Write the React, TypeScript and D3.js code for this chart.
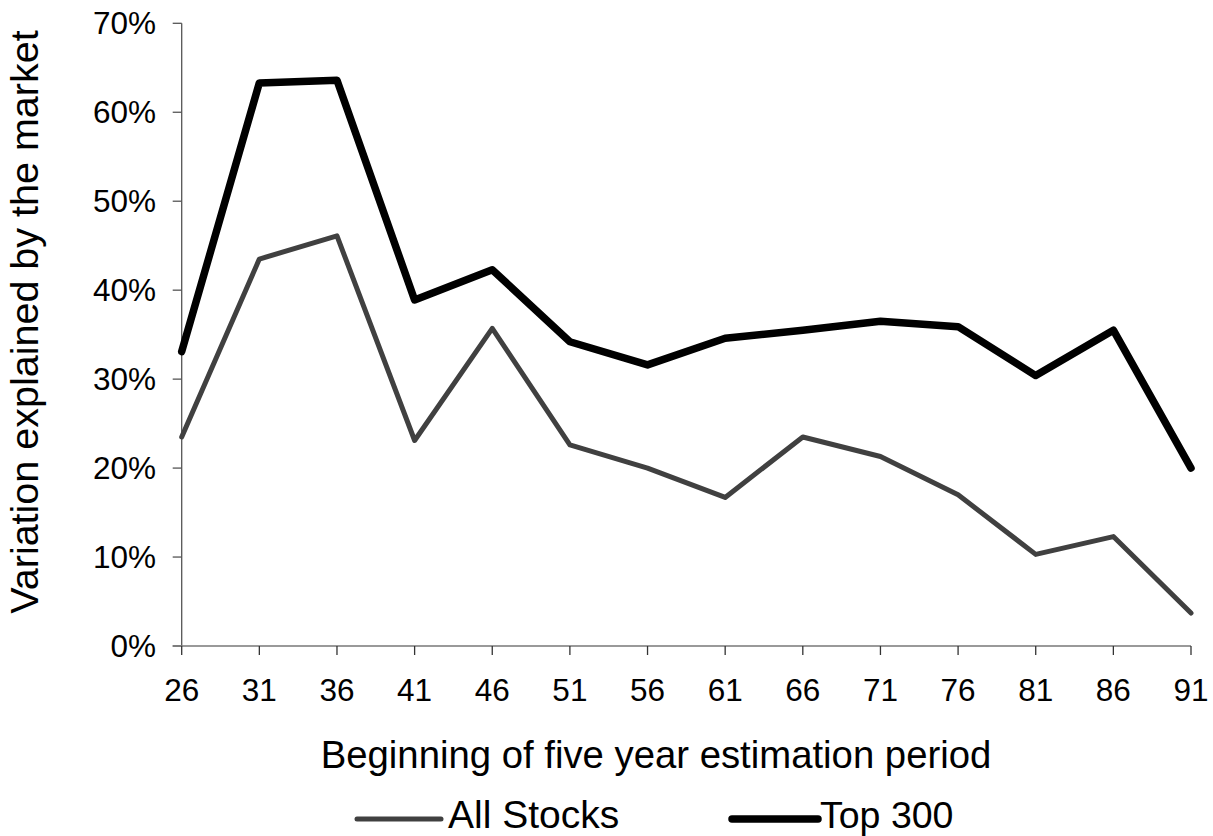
import React from "react";
import * as d3 from "d3";

const categories = ["26", "31", "36", "41", "46", "51", "56", "61", "66", "71", "76", "81", "86", "91"];
const allStocks = [0.235, 0.435, 0.461, 0.231, 0.357, 0.226, 0.200, 0.167, 0.235, 0.213, 0.170, 0.103, 0.123, 0.037];
const top300 = [0.331, 0.633, 0.636, 0.389, 0.423, 0.342, 0.316, 0.346, 0.355, 0.365, 0.359, 0.304, 0.355, 0.200];
const yTicks = [0, 0.1, 0.2, 0.3, 0.4, 0.5, 0.6, 0.7];
const seriesNames = ["All Stocks", "Top 300"];

const W = 1213;
const H = 836;
const FONT = "'Liberation Sans', Arial, Helvetica, sans-serif";

export default function App() {
  const x = d3.scalePoint<string>().domain(categories).range([181.7, 1191]).padding(0);
  const y = d3.scaleLinear().domain([0, 0.7]).range([646, 23.3]);
  const line = d3
    .line<number>()
    .x((_, i) => x(categories[i]) as number)
    .y((d) => y(d));
  const fmt = d3.format(".0%");
  const x0 = 181.7;
  const x1 = 1191;
  const y0 = y(0);

  return (
    <svg width={W} height={H} style={{ position: "absolute", left: 0, top: 0, background: "#fff" }} fontFamily={FONT}>
      <rect x={0} y={0} width={W} height={H} fill="#fff" />
      {/* Y axis */}
      <line x1={x0} x2={x0} y1={y(0.7)} y2={y0} stroke="#555" strokeWidth={1.3} />
      {yTicks.map((t) => (
        <g key={t}>
          <line x1={x0 - 9} x2={x0} y1={y(t)} y2={y(t)} stroke="#555" strokeWidth={1.3} />
          <text x={156} y={y(t)} dy="0.35em" textAnchor="end" fontSize={31.5} fill="#000">
            {fmt(t)}
          </text>
        </g>
      ))}
      {/* X axis */}
      <line x1={x0 - 9} x2={x1} y1={y0} y2={y0} stroke="#777" strokeWidth={1.3} />
      {categories.map((c) => (
        <g key={c}>
          <line x1={x(c)} x2={x(c)} y1={y0} y2={y0 + 9} stroke="#333" strokeWidth={1.3} />
          <text x={x(c)} y={701} textAnchor="middle" fontSize={31.5} fill="#000">
            {c}
          </text>
        </g>
      ))}
      {/* Lines */}
      <path d={line(allStocks) || ""} fill="none" stroke="#404040" strokeWidth={5} strokeLinejoin="round" strokeLinecap="round" />
      <path d={line(top300) || ""} fill="none" stroke="#000" strokeWidth={7.5} strokeLinejoin="round" strokeLinecap="round" />
      {/* Axis titles */}
      <text x={656} y={768} textAnchor="middle" fontSize={38.3} fill="#000">
        Beginning of five year estimation period
      </text>
      <text transform={`translate(38, 322) rotate(-90)`} textAnchor="middle" fontSize={39.5} fill="#000">
        Variation explained by the market
      </text>
      {/* Legend */}
      <line x1={357} x2={441} y1={819} y2={819} stroke="#404040" strokeWidth={5} strokeLinecap="round" />
      <text x={448} y={828} fontSize={39} fill="#000">{seriesNames[0]}</text>
      <line x1={732} x2={818} y1={819} y2={819} stroke="#000" strokeWidth={7.5} strokeLinecap="round" />
      <text x={820} y={828} fontSize={37.5} fill="#000">{seriesNames[1]}</text>
    </svg>
  );
}
